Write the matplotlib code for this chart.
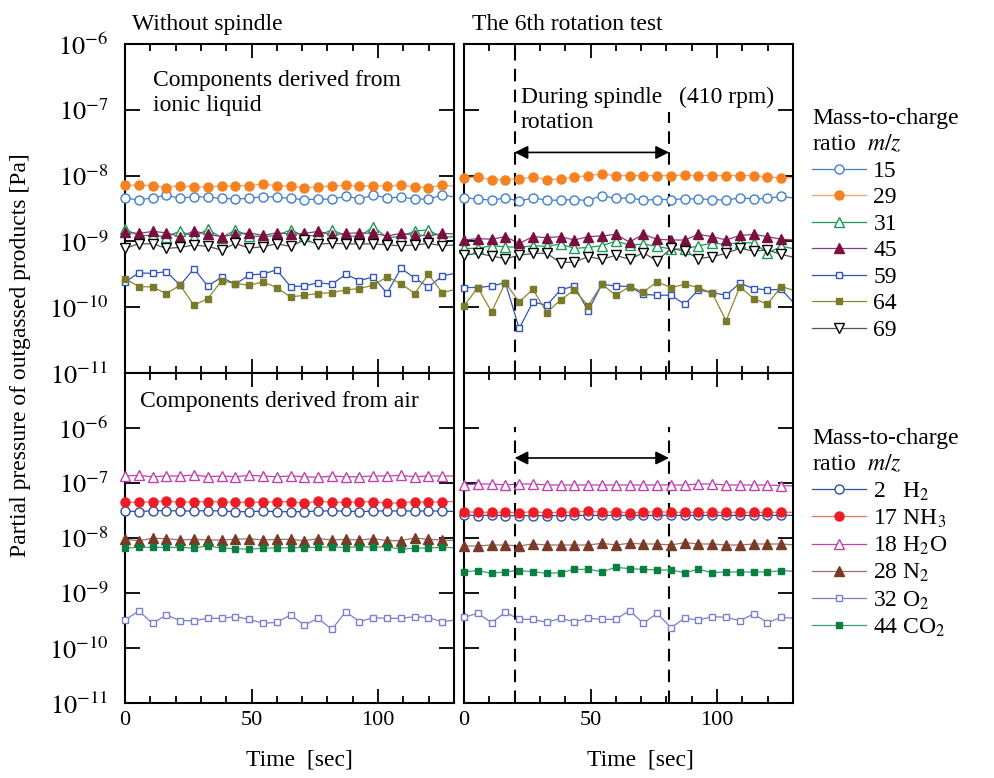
import numpy as np
import matplotlib.pyplot as plt
from matplotlib.lines import Line2D
from matplotlib.ticker import FixedLocator, MultipleLocator, NullLocator

plt.rcParams['font.family'] = ['Liberation Serif', 'DejaVu Serif']
plt.rcParams['mathtext.fontset'] = 'stix'
plt.rcParams['font.size'] = 17

# sampling times [sec]; the last one lies just past the axis edge
t = [0, 5.45, 10.9, 16.35, 21.8, 27.25, 32.7, 38.15, 43.6, 49.05, 54.5, 59.95,
     65.4, 70.85, 76.3, 81.75, 87.2, 92.65, 98.1, 103.55, 109.0, 114.45, 119.9, 125.35, 130.8]

# ---- ionic liquid components, without spindle ----
tl_15 = [4.54, 4.28, 4.59, 5.04, 4.49, 4.81, 4.70, 4.49, 4.43, 4.49, 4.81, 4.70, 4.49,
         4.33, 4.38, 4.38, 4.86, 4.43, 5.04, 4.59, 4.70, 4.43, 4.38, 5.09, 4.70]
tl_29 = [7.14, 7.14, 7.06, 6.58, 7.06, 6.73, 6.73, 6.89, 7.06, 7.06, 7.39, 7.06, 6.89,
         6.58, 6.73, 6.89, 7.23, 6.89, 7.06, 6.89, 7.23, 6.73, 6.58, 7.14, 6.90]
tl_31 = [1.52, 1.23, 1.23, 1.18, 1.44, 1.18, 1.52, 1.14, 1.49, 1.21, 1.18, 1.23, 1.49,
         1.21, 1.23, 1.49, 1.23, 1.18, 1.67, 1.14, 1.18, 1.44, 1.49, 1.14, 1.20]
tl_45 = [1.38, 1.32, 1.42, 1.35, 1.18, 1.44, 1.28, 1.18, 1.28, 1.35, 1.23, 1.35, 1.29,
         1.32, 1.42, 1.26, 1.32, 1.35, 1.32, 1.21, 1.32, 1.26, 1.21, 1.32, 1.30]
tl_59 = [2.42, 3.31, 3.27, 3.47, 2.16, 3.85, 2.10, 2.85, 2.23, 3.09, 3.20, 3.68, 2.06,
         2.10, 2.36, 2.23, 3.16, 2.54, 2.88, 1.63, 3.90, 2.78, 2.03, 2.98, 3.30]
tl_64 = [2.72, 2.06, 2.03, 1.61, 2.16, 1.07, 1.35, 2.51, 2.29, 2.16, 2.42, 1.99, 1.43,
         1.52, 1.61, 1.67, 1.83, 1.92, 2.16, 2.88, 2.29, 1.61, 3.16, 1.67, 1.87]
tl_69 = [7.83, 9.20, 9.20, 7.83, 8.10, 8.80, 8.40, 7.39, 9.33, 7.90, 8.30, 9.20, 8.40,
         10.5, 9.12, 9.33, 9.20, 9.12, 9.20, 8.80, 8.60, 8.80, 9.33, 8.60, 8.80]

# ---- ionic liquid components, 6th rotation test ----
tr_15 = [4.59, 4.43, 4.23, 4.59, 4.08, 4.59, 4.23, 4.23, 4.33, 4.18, 4.98, 4.49, 4.59,
         4.23, 4.33, 4.33, 4.43, 4.43, 4.33, 4.23, 4.59, 4.43, 4.49, 4.86, 4.50]
tr_29 = [9.23, 9.55, 8.70, 8.70, 8.90, 9.55, 8.70, 8.90, 9.55, 10.0, 10.6, 10.0, 10.0,
         10.0, 10.0, 10.0, 10.2, 10.0, 10.0, 10.0, 10.0, 10.0, 9.55, 9.23, 9.30]
tr_31 = [7.83, 7.83, 8.60, 8.30, 8.10, 8.60, 8.40, 9.12, 7.83, 8.10, 8.60, 10.1, 8.80,
         9.12, 8.40, 7.66, 7.66, 8.60, 9.33, 9.12, 9.55, 9.55, 6.67, 8.40, 7.70]
tr_45 = [1.05, 1.10, 1.08, 1.18, 0.933, 1.18, 1.14, 1.18, 1.05, 1.18, 1.21, 1.28, 0.977,
         1.28, 1.08, 1.05, 1.05, 1.28, 1.18, 1.05, 1.23, 1.28, 1.18, 1.08, 1.05]
tr_59 = [1.99, 1.99, 2.10, 2.36, 0.475, 1.20, 1.07, 1.83, 2.10, 0.88, 2.23, 2.10, 2.06,
         1.57, 1.52, 1.52, 1.11, 1.83, 1.67, 1.52, 2.31, 1.92, 1.83, 1.87, 1.11]
tr_64 = [1.05, 1.99, 0.85, 2.36, 1.20, 1.87, 0.83, 1.29, 1.83, 1.05, 2.23, 1.52, 2.06,
         1.71, 2.42, 1.99, 2.23, 1.99, 1.64, 0.62, 2.06, 1.35, 1.11, 2.06, 1.78]
tr_69 = [6.14, 6.58, 6.00, 5.46, 6.14, 6.58, 6.58, 4.75, 4.86, 5.86, 5.34, 6.14, 5.34,
         6.73, 5.04, 7.83, 7.14, 5.46, 5.86, 6.58, 7.83, 7.14, 7.39, 6.35, 5.66]

# ---- air components, without spindle ----
bl_h2 = [3.10, 3.01, 3.14, 3.14, 3.10, 3.10, 3.14, 3.10, 3.01, 3.01, 3.10, 3.01, 3.01,
         3.01, 3.10, 3.10, 3.10, 3.01, 3.10, 3.10, 3.10, 3.10, 3.10, 3.10, 3.01]
bl_nh3 = [4.45, 4.45, 4.58, 4.71, 4.45, 4.58, 4.58, 4.58, 4.45, 4.45, 4.45, 4.58, 4.58,
          4.27, 4.71, 4.45, 4.45, 4.58, 4.58, 4.27, 4.39, 4.58, 4.45, 4.58, 4.58]
bl_h2o = [1.34, 1.38, 1.30, 1.34, 1.34, 1.40, 1.30, 1.34, 1.30, 1.38, 1.34, 1.30, 1.34,
          1.30, 1.27, 1.34, 1.30, 1.30, 1.34, 1.34, 1.38, 1.30, 1.34, 1.34, 1.34]
bl_n2 = [9.46, 8.95, 9.86, 9.73, 9.20, 9.46, 9.20, 9.20, 9.46, 9.73, 9.20, 9.46, 9.46,
         8.95, 9.73, 9.20, 9.46, 9.20, 9.73, 8.95, 8.95, 10.0, 9.46, 9.20, 8.95]
bl_o2 = [3.23, 4.71, 2.81, 3.98, 3.14, 3.14, 3.46, 3.46, 3.72, 3.32, 2.81, 2.93, 3.98,
         2.62, 3.46, 2.18, 4.58, 3.01, 3.56, 3.46, 3.46, 3.72, 3.56, 3.01, 3.23]
bl_co2 = [6.57, 6.76, 6.76, 6.76, 6.76, 6.57, 7.16, 6.57, 6.40, 6.22, 6.57, 6.57, 6.68,
          6.68, 6.76, 6.90, 6.68, 6.96, 6.76, 6.96, 6.22, 6.57, 6.57, 6.76, 6.65]

# ---- air components, 6th rotation test ----
br_h2 = [2.62, 2.55, 2.62, 2.55, 2.55, 2.55, 2.55, 2.55, 2.58, 2.58, 2.58, 2.58, 2.58,
         2.58, 2.58, 2.58, 2.58, 2.58, 2.58, 2.58, 2.58, 2.58, 2.58, 2.58, 2.58]
br_nh3 = [3.01, 2.93, 2.93, 2.93, 2.89, 3.01, 2.89, 2.93, 2.97, 3.06, 2.97, 2.97, 2.89,
          2.93, 3.01, 2.93, 2.93, 2.93, 2.93, 2.93, 2.93, 2.93, 2.93, 2.93, 2.93]
br_h2o = [9.2, 9.6, 9.6, 9.2, 9.6, 9.6, 9.2, 9.2, 9.2, 9.2, 9.2, 9.2, 9.2,
          9.2, 9.2, 9.2, 9.2, 9.6, 9.6, 9.2, 9.2, 9.2, 9.2, 8.95, 8.85]
br_n2 = [7.16, 7.16, 7.46, 7.46, 7.16, 7.78, 7.46, 7.46, 7.46, 7.46, 8.00, 7.46, 8.00,
         7.78, 7.78, 7.46, 8.23, 7.78, 7.78, 7.46, 7.46, 7.78, 7.78, 7.78, 7.46]
br_o2 = [3.61, 4.27, 2.89, 4.45, 3.32, 3.32, 2.93, 3.46, 3.01, 3.46, 3.32, 3.32, 4.77,
         2.81, 4.27, 2.34, 3.46, 3.23, 3.72, 3.61, 3.14, 4.15, 2.89, 3.61, 3.46]
br_co2 = [2.44, 2.55, 2.28, 2.44, 2.55, 2.44, 2.28, 2.34, 2.69, 2.69, 2.44, 2.93, 2.77,
          2.69, 2.62, 2.62, 2.34, 2.69, 2.34, 2.41, 2.41, 2.41, 2.41, 2.55, 2.48]

ion_labels = ['15', '29', '31', '45', '59', '64', '69']
air_labels = ['2   H$_2$', '17 NH$_3$', '18 H$_2$O', '28 N$_2$', '32 O$_2$', '44 CO$_2$']

# style per series: marker, face, edge, line colour, marker size
ion_style = [('o', 'white', '#3f7fd0', '#3f7fd0', 6.5),
             ('o', '#f58220', '#f58220', '#f7a070', 6.5),
             ('^', 'white', '#1a9a55', '#1a9a55', 7.5),
             ('^', '#7a1040', '#7a1040', '#8b3a7f', 7.5),
             ('s', 'white', '#3355bb', '#3355bb', 4.5),
             ('s', '#7a7a2a', '#7a7a2a', '#8a8a30', 4.5),
             ('v', 'white', 'black', '#555555', 7.5)]
air_style = [('o', 'white', '#2e4fa0', '#2e4fa0', 6.5),
             ('o', '#ee1c25', '#ee1c25', '#f07070', 6.5),
             ('^', 'white', '#c040b0', '#c040b0', 7.5),
             ('^', '#7a3a28', '#7a3a28', '#a07070', 7.5),
             ('s', 'white', '#7b80c8', '#7b80c8', 4.5),
             ('s', '#0a7f40', '#0a7f40', '#3fa070', 4.5)]

fig = plt.figure(figsize=(9.95, 7.78), dpi=100)
W, H = 995., 778.
ax_tl = fig.add_axes([125/W, 1-373/H, 329/W, 329/H])
ax_tr = fig.add_axes([464/W, 1-373/H, 329/W, 329/H])
ax_bl = fig.add_axes([125/W, 1-703/H, 329/W, 330/H])
ax_br = fig.add_axes([464/W, 1-703/H, 329/W, 330/H])


def draw(ax, data, styles, scales):
    for vals, (mk, fc, ec, lc, ms), sc in zip(data, styles, scales):
        v = np.array(vals) * sc
        ax.plot(t, v, color=lc, lw=0.9, zorder=2)
        ax.plot(t[:-1], v[:-1], ls='none', marker=mk, mfc=fc, mec=ec, ms=ms,
                mew=1.0, clip_on=False, zorder=3)


draw(ax_tl, [tl_15, tl_29, tl_31, tl_45, tl_59, tl_64, tl_69], ion_style,
     [1e-9, 1e-9, 1e-9, 1e-9, 1e-10, 1e-10, 1e-10])
draw(ax_tr, [tr_15, tr_29, tr_31, tr_45, tr_59, tr_64, tr_69], ion_style,
     [1e-9, 1e-9, 1e-10, 1e-9, 1e-10, 1e-10, 1e-10])
draw(ax_bl, [bl_h2, bl_nh3, bl_h2o, bl_n2, bl_o2, bl_co2], air_style,
     [1e-8, 1e-8, 1e-7, 1e-9, 1e-10, 1e-9])
draw(ax_br, [br_h2, br_nh3, br_h2o, br_n2, br_o2, br_co2], air_style,
     [1e-8, 1e-8, 1e-8, 1e-9, 1e-10, 1e-9])

for ax in (ax_tl, ax_tr, ax_bl, ax_br):
    ax.set_yscale('log')
    ax.set_xlim(0, 130)
    ax.xaxis.set_major_locator(FixedLocator([0, 50, 100]))
    ax.xaxis.set_minor_locator(MultipleLocator(10))
    ax.tick_params(which='both', direction='in', top=True, right=True, width=1.3)
    ax.tick_params(axis='x', which='major', length=10, labelsize=16, pad=6)
    ax.tick_params(axis='x', which='minor', length=5)
    ax.tick_params(axis='y', which='major', length=11, labelsize=19, pad=12)
    for s in ax.spines.values():
        s.set_linewidth(1.5)

top_ticks = [1e-11, 1e-10, 1e-9, 1e-8, 1e-7, 1e-6]
top_lbls = ['$10^{-11}$', '$10^{-10}$', '$10^{-9}$', '$10^{-8}$', '$10^{-7}$', '$10^{-6}$']
for ax in (ax_tl, ax_tr):
    ax.set_ylim(1e-11, 1e-6)
    ax.set_yticks(top_ticks, top_lbls if ax is ax_tl else [''] * 6)
    ax.set_xticklabels([])
for ax in (ax_bl, ax_br):
    ax.set_ylim(1e-11, 1e-5)
    ax.set_yticks(top_ticks + [1e-5], (top_lbls + ['']) if ax is ax_bl else [''] * 7)
for ax in (ax_tl, ax_tr, ax_bl, ax_br):
    ax.yaxis.set_minor_locator(NullLocator())

# spindle rotation window
ax_tr.plot([20, 20], [1e-11, 1e-6], 'k--', lw=1.5, dashes=(6, 4))
ax_tr.plot([81, 81], [1e-11, 9.3e-8], 'k--', lw=1.5, dashes=(6, 4))
ax_br.plot([20, 20], [1e-11, 1.05e-6], 'k--', lw=1.5, dashes=(6, 4))
ax_br.plot([81, 81], [1e-11, 1.05e-6], 'k--', lw=1.5, dashes=(6, 4))
arr = dict(arrowstyle='<|-|>', color='black', lw=1.2, mutation_scale=20, shrinkA=0, shrinkB=0)
ax_tr.annotate('', xy=(20, 2.25e-8), xytext=(81, 2.25e-8), arrowprops=arr)
ax_br.annotate('', xy=(20, 2.85e-7), xytext=(81, 2.85e-7), arrowprops=arr)

ax_tr.text(22.5, 0.87, 'During spindle\nrotation', transform=ax_tr.get_xaxis_transform(),
           va='top', ha='left', linespacing=1.25)
ax_tr.text(85, 0.87, '(410 rpm)', transform=ax_tr.get_xaxis_transform(), va='top', ha='left')
ax_tl.text(0.085, 0.92, 'Components derived from\nionic liquid', transform=ax_tl.transAxes,
           va='top', ha='left', linespacing=1.2)
ax_bl.text(0.046, 0.945, 'Components derived from air', transform=ax_bl.transAxes,
           va='top', ha='left')

fig.text(132/W, 1-30/H, 'Without spindle', va='baseline', ha='left')
fig.text(472/W, 1-30/H, 'The 6th rotation test', va='baseline', ha='left')
fig.text(21/W, 1-355/H, 'Partial pressure of outgassed products [Pa]', rotation=90,
         va='center', ha='center')
fig.text(299/W, 1-760/H, 'Time  [sec]', va='center', ha='center')
fig.text(640/W, 1-760/H, 'Time  [sec]', va='center', ha='center')


def handles(styles):
    return [Line2D([], [], color=lc, lw=0.9, marker=mk, mfc=fc, mec=ec, ms=ms, mew=1.0)
            for mk, fc, ec, lc, ms in styles]


leg_kw = dict(loc='upper left', frameon=False, handlelength=2.3, handletextpad=0.3,
              labelspacing=0.21, borderpad=0, borderaxespad=0, alignment='left',
              fontsize=17, title_fontsize=17)
leg1 = fig.legend(handles(ion_style), ion_labels, bbox_to_anchor=(812/W, 1-108/H),
                  title='Mass-to-charge\nratio  $m/z$', **leg_kw)
leg2 = fig.legend(handles(air_style), air_labels, bbox_to_anchor=(812/W, 1-428/H),
                  title='Mass-to-charge\nratio  $m/z$', **leg_kw)
for lg in (leg1, leg2):
    lg.get_title().set_linespacing(1.3)

fig.savefig('out.png', dpi=100)
